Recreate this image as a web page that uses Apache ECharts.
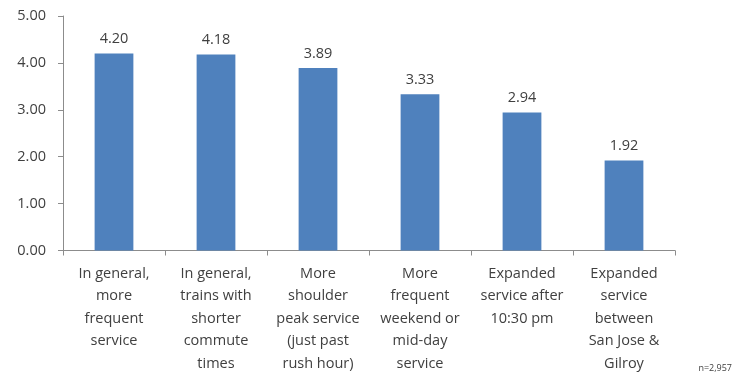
<!DOCTYPE html>
<html>
<head>
<meta charset="utf-8">
<script src="https://cdn.jsdelivr.net/npm/echarts@6/dist/echarts.min.js"></script>
<style>
  html, body { margin: 0; padding: 0; background: #fff; }
  #chart { width: 734px; height: 375px; }
</style>
</head>
<body>
<div id="chart"></div>
<script>
// categories and mean ratings
const categories = [
  'In general,\nmore\nfrequent\nservice',
  'In general,\ntrains with\nshorter\ncommute\ntimes',
  'More\nshoulder\npeak service\n(just past\nrush hour)',
  'More\nfrequent\nweekend or\nmid-day\nservice',
  'Expanded\nservice after\n10:30 pm',
  'Expanded\nservice\nbetween\nSan Jose &\nGilroy'
]
const values = [4.20, 4.18, 3.89, 3.33, 2.94, 1.92]
const yMin = 0
const yMax = 5
const yStep = 1

const font = '"Open Sans", Lato, sans-serif'
const textColor = '#404040'
const chart = echarts.init(document.getElementById('chart'))
chart.setOption({
  animation: false,
  grid: { left: 63, right: 59, top: 16, bottom: 123 },
  xAxis: {
    type: 'category',
    data: categories,
    axisLine: { lineStyle: { color: '#8c8c8c' } },
    axisTick: { show: true, length: 5, lineStyle: { color: '#8c8c8c' } },
    axisLabel: {
      interval: 0, margin: 12, color: textColor,
      fontFamily: font, fontSize: 14.5, lineHeight: 22.5
    }
  },
  yAxis: {
    type: 'value', min: yMin, max: yMax, interval: yStep,
    axisLine: { show: true, lineStyle: { color: '#8c8c8c' } },
    axisTick: { show: true, length: 5, lineStyle: { color: '#8c8c8c' } },
    splitLine: { show: false },
    axisLabel: {
      margin: 17, color: textColor, fontFamily: font, fontSize: 14.5,
      formatter: v => v.toFixed(2)
    }
  },
  series: [{
    type: 'bar',
    data: values,
    barWidth: '38%',
    itemStyle: { color: '#4f81bd' },
    label: {
      show: true, position: 'top', distance: 7,
      color: textColor, fontFamily: font, fontSize: 14.5,
      formatter: p => p.value.toFixed(2)
    }
  }],
  graphic: [{
    type: 'text', right: 2, bottom: 2,
    style: { text: 'n=2,957', fill: textColor, font: '9px ' + font }
  }]
})
</script>
</body>
</html>
